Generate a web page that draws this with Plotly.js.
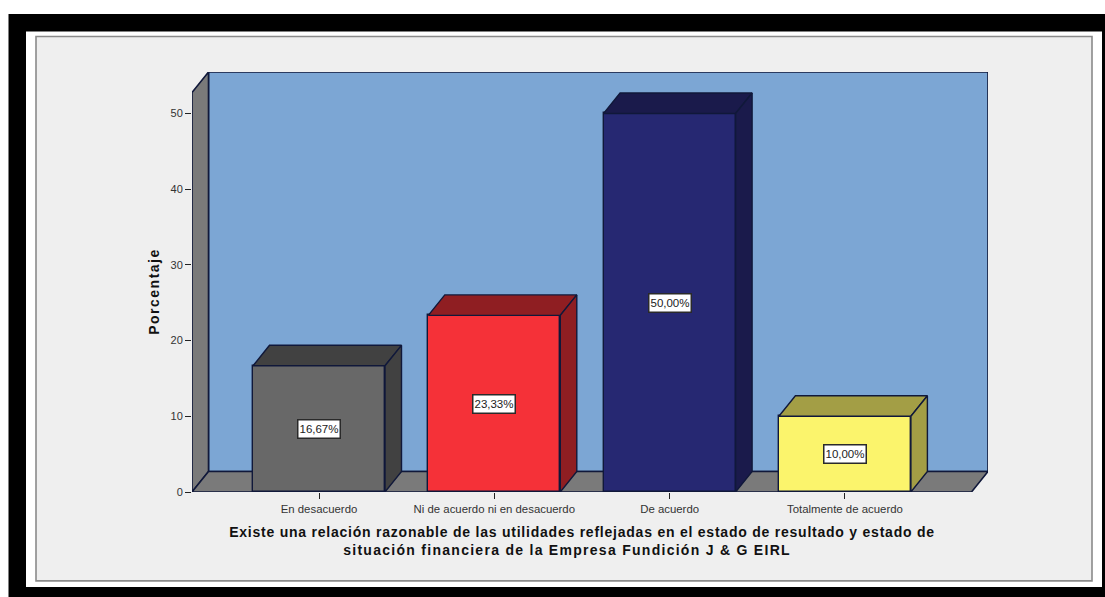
<!DOCTYPE html>
<html>
<head>
<meta charset="utf-8">
<script src="https://cdn.plot.ly/plotly-3.0.1.min.js"></script>
<style>
html,body{margin:0;padding:0;background:#fff;overflow:hidden}
#chart{width:1105px;height:597px}
.g-xtitle{transform:translateX(-8px)}
.g-xtitle text tspan.line:nth-of-type(1){letter-spacing:.77px}
.g-xtitle text tspan.line:nth-of-type(2){letter-spacing:1.28px}
.g-ytitle{transform:translateY(9.5px)}
.g-ytitle text{letter-spacing:1.5px}
</style>
</head>
<body>
<div id="chart"></div>
<script>
const categories = ["En desacuerdo", "Ni de acuerdo ni en desacuerdo", "De acuerdo", "Totalmente de acuerdo"];
const percentages = [16.67, 23.33, 50.0, 10.0];
const valueLabels = ["16,67%", "23,33%", "50,00%", "10,00%"];
const frontColors = ["#686868", "#F53138", "#262872", "#FBF46C"];
const sideColors = ["#414141", "#8F1E22", "#1A1A4B", "#A39E45"];
const yTicks = [0, 10, 20, 30, 40, 50];
const xTitle = "Existe una relación razonable de las utilidades reflejadas en el estado de resultado y estado de<br>situación financiera de la Empresa Fundición J & G EIRL";
const yTitle = "Porcentaje";

const W = 1105, H = 597;
const L = 192, R = 988, T = 71.5, B = 492;          // plot rectangle in page pixels
const pxPerCat = 175.3, pxPerUnit = 7.58, firstCatPx = 319;
const xRange = [(L - firstCatPx) / pxPerCat, (R - firstCatPx) / pxPerCat];
const yRange = [0, (B - T) / pxPerUnit];
const dx = 16.5 / pxPerCat, dy = 20.5 / pxPerUnit;  // oblique depth in axis units
const barWidth = 132 / pxPerCat;
const EDGE = "#10183A";
const positions = categories.map((_, i) => i);

const px = v => (v - L) / (R - L);
const py = v => (B - v) / (B - T);
const pageRect = (x0, y0, x1, y1, fill, line) => ({
  type: "rect", xref: "paper", yref: "paper", layer: "below",
  x0: px(x0), x1: px(x1), y0: py(y0), y1: py(y1), fillcolor: fill,
  line: line ? {color: line, width: 1.6} : {width: 0}
});
const path = pts => "M" + pts.map(p => p[0] + "," + p[1]).join("L") + "Z";
const wall = (pts, fill) => ({
  type: "path", xref: "x", yref: "y", layer: "below", path: path(pts),
  fillcolor: fill, line: {color: EDGE, width: 1.6}
});

const x0 = xRange[0], x1 = xRange[1], yTop = yRange[1];
const shapes = [
  pageRect(8.5, 13.5, 1105, 597, "#000000"),
  pageRect(26, 31, 1102, 587, "#FFFFFF"),
  pageRect(36, 36, 1092, 581, "#EFEFEF", "#8A8A8A"),
  wall([[x0 + dx, dy], [x0 + dx, yTop], [x1, yTop], [x1, dy]], "#7CA6D4"),
  wall([[x0, 0], [x0 + dx, dy], [x0 + dx, yTop], [x0, yTop - dy]], "#7A7A7A"),
  wall([[x0, 0], [x0 + dx, dy], [x1, dy], [x1 - dx, 0]], "#7A7A7A")
];

const faces = [];
positions.forEach((c, i) => {
  const v = percentages[i], a = c - barWidth / 2, b = c + barWidth / 2;
  const face = (xs, ys) => faces.push({
    type: "scatter", mode: "lines", x: xs, y: ys, fill: "toself", fillcolor: sideColors[i],
    line: {color: EDGE, width: 1.4}, hoverinfo: "skip", showlegend: false, cliponaxis: false
  });
  face([a, a + dx, b + dx, b, a], [v, v + dy, v + dy, v, v]);
  face([b, b + dx, b + dx, b, b], [0, dy, v + dy, v, 0]);
});

const bars = {
  type: "bar", x: positions, y: percentages, width: barWidth,
  marker: {color: frontColors, line: {color: EDGE, width: 1.4}},
  hoverinfo: "skip", showlegend: false
};

const annotations = positions.map((c, i) => ({
  x: c, y: percentages[i] / 2, xref: "x", yref: "y", text: valueLabels[i], showarrow: false,
  width: 41, height: 17, align: "center", valign: "middle",
  bgcolor: "#FFFFFF", bordercolor: "#2A2A2A", borderwidth: 1.5, borderpad: 0,
  font: {family: "Liberation Sans, Arial, sans-serif", size: 11.5, color: "#222222"}
}));

const layout = {
  width: W, height: H,
  margin: {l: L, r: W - R, t: T, b: H - B, pad: 0},
  paper_bgcolor: "rgba(0,0,0,0)", plot_bgcolor: "rgba(0,0,0,0)",
  showlegend: false, bargap: 0, shapes, annotations,
  font: {family: "Liberation Sans, Arial, sans-serif", color: "#333333"},
  xaxis: {
    type: "linear", range: xRange, tickmode: "array", tickvals: positions, ticktext: categories,
    showgrid: false, zeroline: false, showline: false, ticks: "outside", ticklen: 6, tickwidth: 1.4,
    tickcolor: "#222222", tickfont: {size: 11.4, color: "#333333"},
    title: {text: xTitle, standoff: 13, font: {size: 14, color: "#111111", weight: "bold"}}
  },
  yaxis: {
    range: yRange, tickmode: "array", tickvals: yTicks,
    showgrid: false, zeroline: false, showline: false, ticks: "outside", ticklen: 6, tickwidth: 1.4,
    tickcolor: "#222222", tickfont: {size: 11, color: "#333333"},
    title: {text: yTitle, standoff: 7, font: {size: 14, color: "#111111", weight: "bold"}}
  }
};

Plotly.newPlot("chart", [bars].concat(faces), layout, {displayModeBar: false, responsive: false}).then(() => {
  const lines = document.querySelectorAll(".g-xtitle tspan.line");
  if (lines[1]) lines[1].setAttribute("dx", "-15");
});
</script>
</body>
</html>
